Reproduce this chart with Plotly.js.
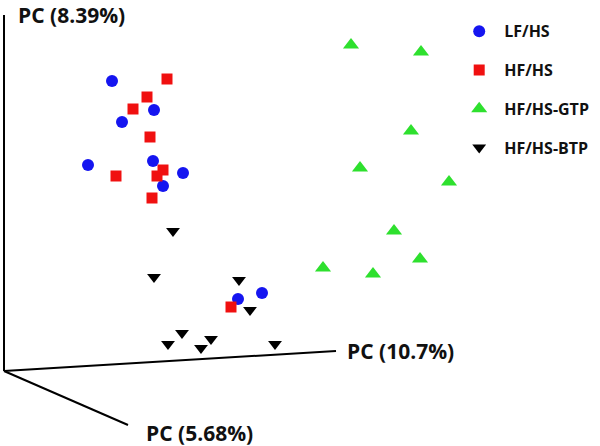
<!DOCTYPE html>
<html><head><meta charset="utf-8">
<script src="https://cdn.plot.ly/plotly-3.0.1.min.js"></script>
<style>html,body{margin:0;padding:0;background:#fff}#c{width:600px;height:446px}</style>
</head><body><div id="c"></div>
<script>
// Projected PCA scores (horizontal, vertical screen projection)
const groups = ["LF/HS", "HF/HS", "HF/HS-GTP", "HF/HS-BTP"];
const lfhsX = [112, 154, 122, 88, 153, 183, 163, 238, 262];
const lfhsY = [81, 110, 122, 165, 161, 173, 186, 299, 293];
const hfhsX = [167, 147, 133, 150, 116, 163, 157, 152, 231];
const hfhsY = [79, 97, 109, 137, 176, 170, 176, 198, 307];
const gtpX = [351, 421, 411, 360, 449, 394, 420, 323, 373];
const gtpY = [45, 52, 131, 168, 182, 231, 259, 268, 274];
const btpX = [173, 154, 239, 250, 182, 168, 201, 211, 275];
const btpY = [231, 277, 280, 310, 333, 344, 348, 339, 344];
const axisLabels = ["PC (8.39%)", "PC (10.7%)", "PC (5.68%)"];

const FONT = "Open Sans, Noto Sans, DejaVu Sans, sans-serif";
const mk = (name, x, y, symbol, size, color, g) => ({
  type: "scatter", mode: "markers", name: "<b>" + name + "</b>", x: x, y: y,
  legendgroup: g,
  marker: {symbol: symbol, size: size, color: color, line: {width: 0}},
  hoverinfo: "skip"
});
const data = [
  mk(groups[0], lfhsX, lfhsY, "circle", 12, "#1515f0", "a"),
  mk(groups[1], hfhsX, hfhsY, "square", 11, "#f01010", "b"),
  mk(groups[2], gtpX, gtpY, "triangle-up", 14, "#2ee02e", "c"),
  mk(groups[3], btpX, btpY, "triangle-down", 12, "#000000", "d")
];
const line = (x0, y0, x1, y1) => ({type: "line", xref: "x", yref: "y", x0, y0, x1, y1,
  line: {color: "#000", width: 2}});
const ann = (t, x, y, ya) => ({text: "<b>" + t + "</b>", x: x, y: y, xref: "x", yref: "y",
  xanchor: "left", yanchor: ya, showarrow: false, borderpad: 0,
  font: {family: FONT, size: 21, color: "#111"}});
const layout = {
  width: 600, height: 446,
  margin: {l: 0, r: 0, t: 0, b: 0},
  paper_bgcolor: "#fff", plot_bgcolor: "#fff",
  xaxis: {range: [0, 600], visible: false, fixedrange: true},
  yaxis: {range: [446, 0], visible: false, fixedrange: true},
  showlegend: true,
  legend: {x: 0.757, y: 0.968, xanchor: "left", yanchor: "top",
    font: {family: FONT, size: 16, color: "#111"}, tracegroupgap: 15,
    itemwidth: 40, bgcolor: "rgba(0,0,0,0)"},
  shapes: [line(4, 15, 4, 371), line(4, 371, 336, 351), line(4, 371, 128, 425)],
  annotations: [ann(axisLabels[0], 17, 0, "top"), ann(axisLabels[1], 346, 351, "middle"), ann(axisLabels[2], 145, 433, "middle")]
};
Plotly.newPlot("c", data, layout, {staticPlot: true, displayModeBar: false});
</script></body></html>
